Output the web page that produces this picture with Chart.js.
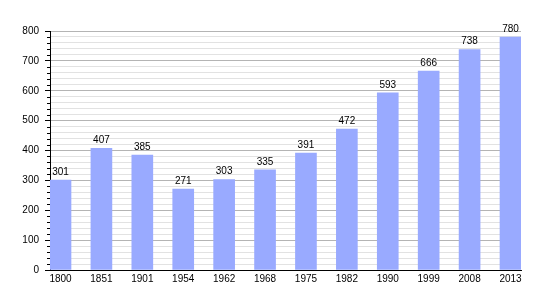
<!DOCTYPE html>
<html>
<head>
<meta charset="utf-8">
<script src="https://cdn.jsdelivr.net/npm/chart.js@4/dist/chart.umd.min.js"></script>
<style>
  html, body { margin: 0; padding: 0; background: #fff; }
  #wrap { width: 550px; height: 300px; }
</style>
</head>
<body>
<div id="wrap"><canvas id="pop"></canvas></div>
<script>
const years = ['1800','1851','1901','1954','1962','1968','1975','1982','1990','1999','2008','2013'];
const population = [301, 407, 385, 271, 303, 335, 391, 472, 593, 666, 738, 780];
const yMax = 800;

Chart.defaults.font.family = '"Liberation Sans", Arial, sans-serif';
Chart.defaults.font.size = 10;
Chart.defaults.color = '#000';

// value above each bar
const barLabels = {
  id: 'barLabels',
  afterDatasetsDraw(chart) {
    const ctx = chart.ctx;
    ctx.save();
    ctx.font = '10px "Liberation Sans", Arial, sans-serif';
    ctx.fillStyle = '#000';
    ctx.textAlign = 'center';
    ctx.textBaseline = 'bottom';
    chart.getDatasetMeta(0).data.forEach((bar, i) => {
      ctx.fillText(population[i], bar.x, bar.y - 3);
    });
    ctx.restore();
  }
};

// short ticks for the minor steps on the y axis
const minorTicks = {
  id: 'minorTicks',
  afterDraw(chart) {
    const y = chart.scales.y, ctx = chart.ctx;
    ctx.save();
    ctx.strokeStyle = '#000';
    ctx.lineWidth = 1;
    for (let v = 20; v < yMax; v += 20) {
      if (v % 100 === 0) continue;
      const py = Math.round(y.getPixelForValue(v)) + 0.5;
      ctx.beginPath();
      ctx.moveTo(y.right - 3, py);
      ctx.lineTo(y.right, py);
      ctx.stroke();
    }
    ctx.restore();
  }
};

new Chart(document.getElementById('pop'), {
  type: 'bar',
  data: {
    datasets: [{
      data: population.map((v, i) => ({ x: i, y: v })),
      backgroundColor: '#99aaff',
      barThickness: 21
    }]
  },
  options: {
    responsive: true,
    maintainAspectRatio: false,
    animation: false,
    layout: { padding: { top: 31, right: 29, left: 0, bottom: 0 } },
    plugins: { legend: { display: false }, tooltip: { enabled: false } },
    scales: {
      x: {
        type: 'linear',
        offset: false,
        min: -0.2567,
        max: 11.2567,
        afterFit: s => { s.height = 30; },
        grid: { display: false, drawTicks: false, offset: false },
        border: { display: true, color: '#000', width: 1 },
        ticks: {
          stepSize: 1,
          includeBounds: false,
          autoSkip: false,
          maxRotation: 0,
          padding: 3,
          callback: v => (Number.isInteger(v) && years[v]) ? years[v] : ''
        }
      },
      y: {
        min: 0,
        max: yMax,
        afterFit: s => { s.width = 50; },
        border: { display: true, color: '#000', width: 1 },
        grid: {
          color: c => (c.tick.value % 100 === 0 ? '#b4b4b4' : '#e2e2e2'),
          tickColor: c => (c.tick.value % 100 === 0 ? '#000' : 'rgba(0,0,0,0)'),
          tickLength: 5
        },
        ticks: {
          stepSize: 20,
          autoSkip: false,
          padding: 6,
          callback: v => (v % 100 === 0 ? v : '')
        }
      }
    }
  },
  plugins: [barLabels, minorTicks]
});
</script>
</body>
</html>
